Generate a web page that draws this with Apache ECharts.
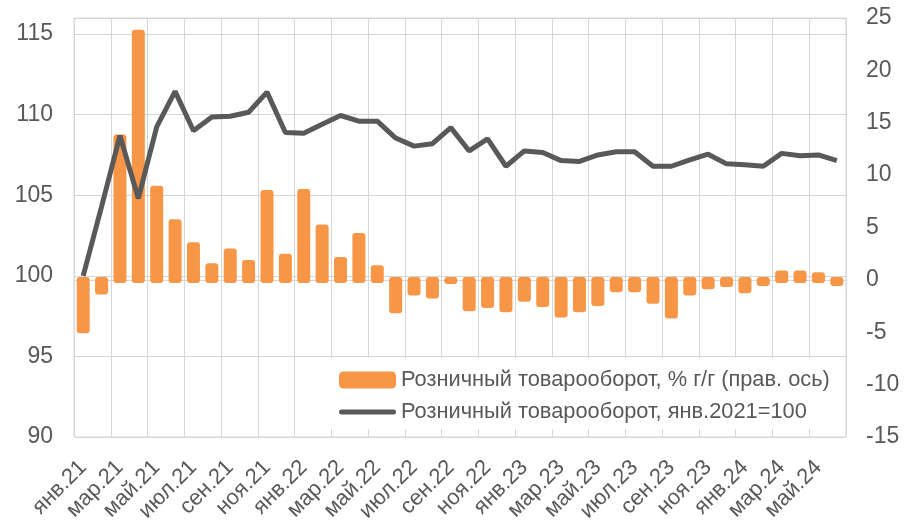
<!DOCTYPE html>
<html>
<head>
<meta charset="utf-8">
<script src="https://cdn.jsdelivr.net/npm/echarts@6/dist/echarts.min.js"></script>
<style>
html,body{margin:0;padding:0;background:#fff;}
#chart{width:908px;height:525px;}
</style>
</head>
<body>
<div id="chart"></div>
<script>
const categories = [
  'янв.21','фев.21','мар.21','апр.21','май.21','июн.21','июл.21','авг.21','сен.21','окт.21','ноя.21','дек.21',
  'янв.22','фев.22','мар.22','апр.22','май.22','июн.22','июл.22','авг.22','сен.22','окт.22','ноя.22','дек.22',
  'янв.23','фев.23','мар.23','апр.23','май.23','июн.23','июл.23','авг.23','сен.23','окт.23','ноя.23','дек.23',
  'янв.24','фев.24','мар.24','апр.24','май.24','июн.24'
];
const yoyValues = [
  -4.8, -1.1, 13.6, 23.6, 8.7, 5.5, 3.3, 1.3, 2.7, 1.6, 8.3, 2.2,
  8.4, 5.0, 1.9, 4.2, 1.1, -2.9, -1.2, -1.5, -0.1, -2.7, -2.4, -2.8,
  -1.8, -2.3, -3.3, -2.8, -2.2, -0.9, -0.9, -2.0, -3.4, -1.2, -0.6, -0.4,
  -1.0, -0.3, 0.6, 0.6, 0.45, -0.3
];
const indexValues = [
  100, 104.3, 108.7, 104.8, 109.25, 111.45, 109.0, 109.85, 109.9, 110.15, 111.4, 108.9,
  108.85, 109.4, 109.95, 109.6, 109.6, 108.55, 108.05, 108.2, 109.2, 107.75, 108.5, 106.8,
  107.75, 107.65, 107.15, 107.1, 107.5, 107.7, 107.7, 106.8, 106.8, 107.2, 107.55, 106.95,
  106.9, 106.8, 107.6, 107.45, 107.5, 107.15
];
const seriesNames = ['Розничный товарооборот, % г/г (прав. ось)', 'Розничный товарооборот, янв.2021=100'];
const leftTicks = {min: 90, max: 116, interval: 5};
const rightTicks = {min: -15, max: 25, interval: 5};

const orange = '#F79646';
const gray = '#595959';
const gridColor = '#d6d6d6';
const font = "'Liberation Sans', Arial, sans-serif";

const barData = yoyValues.map((v, i) => [i, v]);

function renderBar(params, api) {
  const idx = api.value(0);
  const top = api.coord([idx, api.value(1)]);
  const base = api.coord([idx, 0]);
  const w = 7;
  return {
    type: 'rect',
    shape: {x: top[0] - w / 2, y: Math.min(top[1], base[1]), width: w, height: Math.abs(base[1] - top[1])},
    style: {fill: orange, stroke: orange, lineWidth: 6, lineJoin: 'round'}
  };
}

const chart = echarts.init(document.getElementById('chart'), null, {renderer: 'canvas'});
chart.setOption({
  animation: false,
  backgroundColor: '#fff',
  textStyle: {fontFamily: font},
  grid: {left: 74, right: 62, top: 18, bottom: 88, show: true, borderColor: gridColor, borderWidth: 1},
  legend: {
    orient: 'vertical',
    left: 330, top: 358,
    padding: [11, 10, 6, 9],
    itemGap: 10,
    itemWidth: 57, itemHeight: 17,
    backgroundColor: '#fff',
    z: 10,
    textStyle: {color: gray, fontSize: 21.8, fontFamily: font},
    data: [
      {name: seriesNames[0], icon: 'roundRect', itemStyle: {color: orange}},
      {name: seriesNames[1], icon: 'path://M2.5,0 L54.5,0 A2.5,2.5 0 0 1 54.5,5 L2.5,5 A2.5,2.5 0 0 1 2.5,0 Z', itemStyle: {color: gray}}
    ]
  },
  xAxis: {
    type: 'category',
    data: categories,
    boundaryGap: true,
    axisLine: {show: true, lineStyle: {color: gridColor}},
    axisTick: {show: false},
    splitLine: {show: true, interval: 1, lineStyle: {color: gridColor, width: 1}},
    axisLabel: {interval: 1, rotate: 45, margin: 27, color: gray, fontSize: 22, fontFamily: font}
  },
  yAxis: [
    {
      type: 'value', position: 'left',
      min: leftTicks.min, max: leftTicks.max, interval: leftTicks.interval,
      axisLine: {show: false}, axisTick: {show: false},
      splitLine: {show: true, lineStyle: {color: gridColor, width: 1}},
      axisLabel: {color: gray, fontSize: 23, fontFamily: font, margin: 21, showMaxLabel: false,
        formatter: v => (v % 5 === 0 ? String(v) : '')}
    },
    {
      type: 'value', position: 'right',
      min: rightTicks.min, max: rightTicks.max, interval: rightTicks.interval,
      axisLine: {show: false}, axisTick: {show: false},
      splitLine: {show: false},
      axisLabel: {color: gray, fontSize: 23, fontFamily: font, margin: 20}
    }
  ],
  series: [
    {
      name: seriesNames[0],
      type: 'custom',
      coordinateSystem: 'cartesian2d',
      yAxisIndex: 1,
      data: barData,
      encode: {x: 0, y: 1},
      renderItem: renderBar,
      itemStyle: {color: orange},
      clip: false,
      z: 2
    },
    {
      name: seriesNames[1],
      type: 'line',
      yAxisIndex: 0,
      data: indexValues,
      symbol: 'none',
      showSymbol: false,
      itemStyle: {color: gray},
      lineStyle: {color: gray, width: 5},
      z: 3
    }
  ]
});
</script>
</body>
</html>
